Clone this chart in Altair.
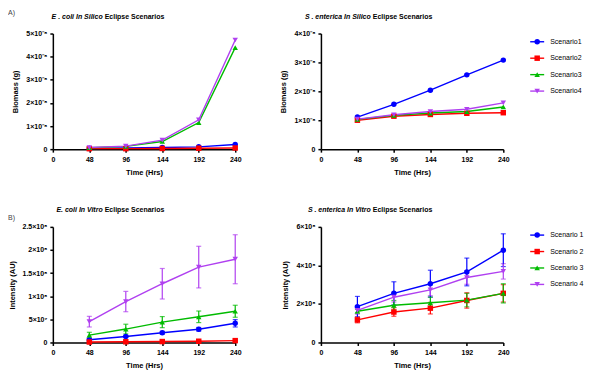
import altair as alt
import pandas as pd

# ---------------- data ----------------
times = [48, 96, 144, 192, 240]
keys = ["S1", "S2", "S3", "S4"]
names_top = ["Scenario1", "Scenario2", "Scenario3", "Scenario4"]
names_bottom = ["Scenario 1", "Scenario 2", "Scenario 3", "Scenario 4"]
colors = ["#0000FF", "#FF0000", "#00BB00", "#B040F0"]
shapes = ["circle", "square", "triangle-up", "triangle-down"]

# A) E. coli in silico biomass (g)
ec_sil_s1 = [0.03e-8, 0.05e-8, 0.07e-8, 0.10e-8, 0.20e-8]
ec_sil_s2 = [0.02e-8, 0.02e-8, 0.03e-8, 0.04e-8, 0.05e-8]
ec_sil_s3 = [0.06e-8, 0.12e-8, 0.33e-8, 1.15e-8, 4.39e-8]
ec_sil_s4 = [0.07e-8, 0.13e-8, 0.39e-8, 1.27e-8, 4.72e-8]

# A) S. enterica in silico biomass (g)
se_sil_s1 = [1.11e-8, 1.55e-8, 2.04e-8, 2.57e-8, 3.08e-8]
se_sil_s2 = [1.00e-8, 1.14e-8, 1.20e-8, 1.24e-8, 1.26e-8]
se_sil_s3 = [1.03e-8, 1.17e-8, 1.25e-8, 1.30e-8, 1.46e-8]
se_sil_s4 = [1.04e-8, 1.19e-8, 1.30e-8, 1.38e-8, 1.60e-8]

# B) E. coli in vitro intensity (AU): mean and error
ec_vit_s1 = [0.6e7, 1.3e7, 2.1e7, 2.85e7, 4.15e7]
ec_vit_s1_err = [0.2e7, 0.2e7, 0.3e7, 0.4e7, 0.8e7]
ec_vit_s2 = [0.1e7, 0.15e7, 0.2e7, 0.27e7, 0.4e7]
ec_vit_s2_err = [0.05e7, 0.05e7, 0.1e7, 0.1e7, 0.1e7]
ec_vit_s3 = [1.6e7, 2.9e7, 4.4e7, 5.55e7, 6.75e7]
ec_vit_s3_err = [0.6e7, 1.05e7, 1.2e7, 1.25e7, 1.3e7]
ec_vit_s4 = [4.5e7, 8.85e7, 12.7e7, 16.3e7, 18.0e7]
ec_vit_s4_err = [1.15e7, 2.2e7, 3.3e7, 4.5e7, 5.3e7]

# B) S. enterica in vitro intensity (AU): mean and error
se_vit_s1 = [1.86e8, 2.55e8, 3.05e8, 3.66e8, 4.79e8]
se_vit_s1_err = [0.53e8, 0.6e8, 0.7e8, 0.72e8, 0.85e8]
se_vit_s2 = [1.17e8, 1.58e8, 1.78e8, 2.18e8, 2.55e8]
se_vit_s2_err = [0.15e8, 0.22e8, 0.3e8, 0.4e8, 0.45e8]
se_vit_s3 = [1.62e8, 1.93e8, 2.06e8, 2.20e8, 2.55e8]
se_vit_s3_err = [0.1e8, 0.25e8, 0.3e8, 0.35e8, 0.5e8]
se_vit_s4 = [1.67e8, 2.35e8, 2.73e8, 3.37e8, 3.69e8]
se_vit_s4_err = [0.2e8, 0.25e8, 0.3e8, 0.35e8, 0.4e8]

# tick values and labels
x_ticks = [0, 48, 96, 144, 192, 240]
ec_sil_yticks = [0, 1e-8, 2e-8, 3e-8, 4e-8, 5e-8]
ec_sil_ylabels = ["0", "1×10⁻⁸", "2×10⁻⁸", "3×10⁻⁸", "4×10⁻⁸", "5×10⁻⁸"]
se_sil_yticks = [0, 1e-8, 2e-8, 3e-8, 4e-8]
se_sil_ylabels = ["0", "1×10⁻⁸", "2×10⁻⁸", "3×10⁻⁸", "4×10⁻⁸"]
ec_vit_yticks = [0, 5e7, 1e8, 1.5e8, 2e8, 2.5e8]
ec_vit_ylabels = ["0", "5×10⁷", "1×10⁸", "1.5×10⁸", "2×10⁸", "2.5×10⁸"]
se_vit_yticks = [0, 2e8, 4e8, 6e8]
se_vit_ylabels = ["0", "2×10⁸", "4×10⁸", "6×10⁸"]

W, H = 183, 116
COL_GAP = 86
LEG_GAP = 27
MSIZE = 30
FONT = "Liberation Sans"


def make_df(series, errs=None):
    rows = []
    for i, k in enumerate(keys):
        for j, t in enumerate(times):
            v = series[i][j]
            e = errs[i][j] if errs else 0.0
            rows.append({"t": t, "k": k, "v": v, "lo": v - e, "hi": v + e})
    return pd.DataFrame(rows)


color = alt.Color("k:N", scale=alt.Scale(domain=keys, range=colors), legend=None)
shape = alt.Shape("k:N", scale=alt.Scale(domain=keys, range=shapes), legend=None)


def label_expr(labels, step):
    arr = "[" + ",".join("'" + s + "'" for s in labels) + "]"
    return f"{arr}[round(datum.value / {step})]"


def panel(df, yticks, ylabels, ytitle, title_a, title_b, errors, letter=None, letter_y=-21):
    step = yticks[1]
    xenc = alt.X("t:Q", scale=alt.Scale(domain=[0, 240], nice=False),
                 axis=alt.Axis(values=x_ticks, title="Time (Hrs)", format="d"))
    yaxis = alt.Axis(values=yticks, title=ytitle, labelExpr=label_expr(ylabels, step))
    yscale = alt.Scale(domain=[0, yticks[-1]], nice=False)
    base = alt.Chart(df)
    layers = []
    if errors:
        layers.append(base.mark_errorbar(ticks={"size": 5}, thickness=1.2).encode(
            x=xenc, y=alt.Y("lo:Q", scale=yscale, axis=yaxis), y2="hi:Q", color=color))
    layers.append(base.mark_line(strokeWidth=1.4).encode(
        x=xenc, y=alt.Y("v:Q", scale=yscale, axis=yaxis), color=color))
    layers.append(base.mark_point(filled=True, size=MSIZE, opacity=1).encode(
        x=xenc, y=alt.Y("v:Q", scale=yscale, axis=yaxis), color=color, shape=shape))
    tdf = pd.DataFrame({"a": [title_a], "b": [title_b]})
    layers.append(alt.Chart(tdf).mark_text(align="right", baseline="middle", font=FONT,
                                            fontSize=7, fontWeight="bold", fontStyle="italic").encode(
        x=alt.value(50), y=alt.value(-17), text="a:N"))
    layers.append(alt.Chart(tdf).mark_text(align="left", baseline="middle", font=FONT,
                                            fontSize=7, fontWeight="bold").encode(
        x=alt.value(52), y=alt.value(-17), text="b:N"))
    if letter:
        ldf = pd.DataFrame({"l": [letter]})
        layers.append(alt.Chart(ldf).mark_text(align="left", baseline="middle", font=FONT,
                                                fontSize=7, color="#444444").encode(
            x=alt.value(-45), y=alt.value(letter_y), text="l:N"))
    return alt.layer(*layers).properties(width=W, height=H)


def legend_chart(names):
    # legend view sits COL_GAP right of the panel; glyphs are drawn LEG_GAP right of it
    off = LEG_GAP - COL_GAP
    ldf = pd.DataFrame({"k": keys, "name": names})
    yleg = alt.Y("k:N", scale=alt.Scale(domain=keys, type="point", padding=0.5), axis=None)
    rule = alt.Chart(ldf).mark_rule(strokeWidth=1.4).encode(
        x=alt.value(off), x2=alt.value(off + 14), y=yleg, color=color)
    pt = alt.Chart(ldf).mark_point(filled=True, size=MSIZE, opacity=1).encode(
        x=alt.value(off + 7), y=yleg, color=color, shape=shape)
    txt = alt.Chart(ldf).mark_text(align="left", baseline="middle", font=FONT, fontSize=7).encode(
        x=alt.value(off + 20), y=yleg, text="name:N")
    return alt.layer(rule, pt, txt).properties(width=1, height=66)


tl = panel(make_df([ec_sil_s1, ec_sil_s2, ec_sil_s3, ec_sil_s4]),
           ec_sil_yticks, ec_sil_ylabels, "Biomass (g)",
           "E . coli In Silico", "Eclipse Scenarios", False, "A)", -21)
tr = panel(make_df([se_sil_s1, se_sil_s2, se_sil_s3, se_sil_s4]),
           se_sil_yticks, se_sil_ylabels, "Biomass (g)",
           "S . enterica In Silico", "Eclipse Scenarios", False)
bl = panel(make_df([ec_vit_s1, ec_vit_s2, ec_vit_s3, ec_vit_s4],
                   [ec_vit_s1_err, ec_vit_s2_err, ec_vit_s3_err, ec_vit_s4_err]),
           ec_vit_yticks, ec_vit_ylabels, "Intensity (AU)",
           "E. coli In Vitro", "Eclipse Scenarios", True, "B)", -9)
br = panel(make_df([se_vit_s1, se_vit_s2, se_vit_s3, se_vit_s4],
                   [se_vit_s1_err, se_vit_s2_err, se_vit_s3_err, se_vit_s4_err]),
           se_vit_yticks, se_vit_ylabels, "Intensity (AU)",
           "S . enterica In Vitro", "Eclipse Scenarios", True)

chart = alt.concat(
    tl, tr, legend_chart(names_top),
    bl, br, legend_chart(names_bottom),
    columns=3, spacing={"row": 78, "column": COL_GAP}, bounds="flush",
).properties(
    padding=0
).configure_view(stroke=None).configure_axis(
    grid=False,
    labelFont=FONT, labelFontSize=7, labelFontWeight="bold", labelColor="black",
    labelPadding=3, labelFlush=False, labelOverlap=False, labelBound=False,
    titleFont=FONT, titleFontSize=7.5, titleFontWeight="bold", titleColor="black",
    domainColor="black", domainWidth=1.5, tickColor="black", tickWidth=1.5, tickSize=3,
).configure_axisX(titlePadding=6).configure_axisY(titlePadding=6)

chart.save("out.html", embed_options={"renderer": "svg", "actions": False})
